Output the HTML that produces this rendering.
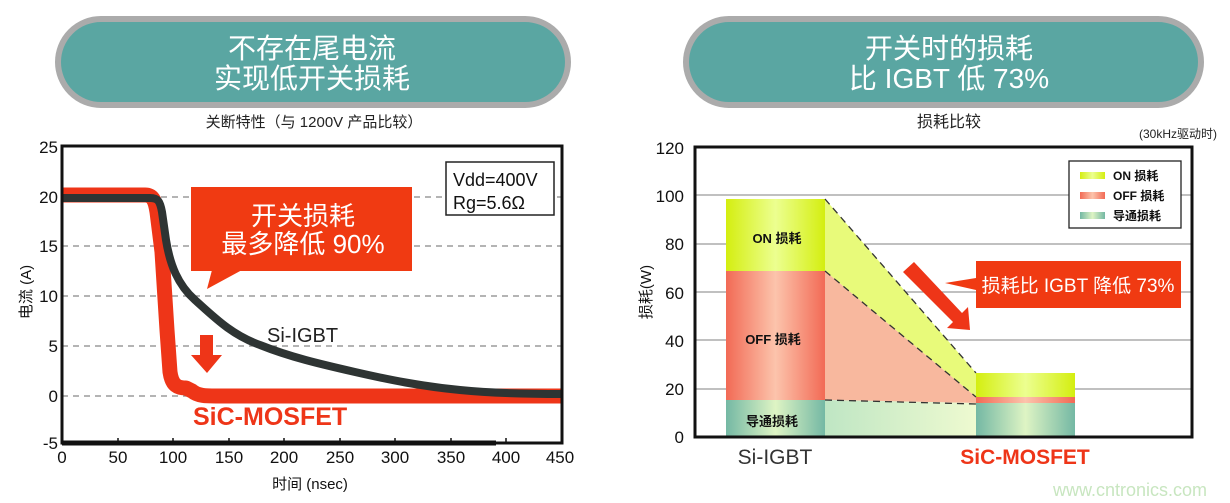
<!DOCTYPE html>
<html><head><meta charset="utf-8"><style>
html,body{margin:0;padding:0;background:#fff;}
svg{display:block;font-family:"Liberation Sans","Noto Sans CJK SC",sans-serif;}
</style></head><body>
<svg width="1230" height="503" viewBox="0 0 1230 503" xmlns="http://www.w3.org/2000/svg">
<defs>
<linearGradient id="gOn" x1="0" x2="1"><stop offset="0" stop-color="#d4ee10"/><stop offset="0.5" stop-color="#ecff90"/><stop offset="1" stop-color="#d4ee10"/></linearGradient>
<linearGradient id="gOff" x1="0" x2="1"><stop offset="0" stop-color="#f26a55"/><stop offset="0.5" stop-color="#fcc4ac"/><stop offset="1" stop-color="#f26a55"/></linearGradient>
<linearGradient id="gCon" x1="0" x2="1"><stop offset="0" stop-color="#74b8a4"/><stop offset="0.5" stop-color="#def4c4"/><stop offset="1" stop-color="#74b8a4"/></linearGradient>
<linearGradient id="gConT" x1="0" x2="1"><stop offset="0" stop-color="#bfe6c4"/><stop offset="1" stop-color="#eefad0"/></linearGradient>
</defs>

<!-- header pills -->
<rect x="58" y="19" width="510" height="86" rx="43" fill="#5aa6a2" stroke="#ababab" stroke-width="6"/>
<text x="312" y="58" font-size="28" fill="#fff" text-anchor="middle">不存在尾电流</text>
<text x="312" y="88" font-size="28" fill="#fff" text-anchor="middle">实现低开关损耗</text>
<rect x="686" y="19" width="515" height="86" rx="43" fill="#5aa6a2" stroke="#ababab" stroke-width="6"/>
<text x="949" y="58" font-size="28" fill="#fff" text-anchor="middle">开关时的损耗</text>
<text x="949" y="88" font-size="28" fill="#fff" text-anchor="middle">比 IGBT 低 73%</text>

<text x="314" y="127" font-size="15" fill="#222" text-anchor="middle">关断特性（与 1200V 产品比较）</text>
<text x="949" y="127" font-size="16" fill="#222" text-anchor="middle">损耗比较</text>
<text x="1217" y="138" font-size="12" fill="#222" text-anchor="end">(30kHz驱动时)</text>

<!-- LEFT CHART -->
<g stroke="#888" stroke-width="1.2" stroke-dasharray="6,5">
<line x1="62" y1="197" x2="562" y2="197"/><line x1="62" y1="246" x2="562" y2="246"/>
<line x1="62" y1="296" x2="562" y2="296"/><line x1="62" y1="346" x2="562" y2="346"/>
<line x1="62" y1="396" x2="562" y2="396"/>
</g>
<g font-size="17" fill="#111" text-anchor="end">
<text x="58" y="153">25</text><text x="58" y="203">20</text><text x="58" y="252">15</text>
<text x="58" y="302">10</text><text x="58" y="352">5</text><text x="58" y="402">0</text><text x="58" y="449">-5</text>
</g>
<g font-size="17" fill="#111" text-anchor="middle">
<text x="62" y="463">0</text><text x="118" y="463">50</text><text x="173" y="463">100</text>
<text x="229" y="463">150</text><text x="284" y="463">200</text><text x="340" y="463">250</text>
<text x="395" y="463">300</text><text x="451" y="463">350</text><text x="506" y="463">400</text><text x="560" y="463">450</text>
</g>
<g stroke="#111" stroke-width="1.5">
<line x1="118" y1="443" x2="118" y2="438"/><line x1="173" y1="443" x2="173" y2="438"/><line x1="229" y1="443" x2="229" y2="438"/>
<line x1="284" y1="443" x2="284" y2="438"/><line x1="340" y1="443" x2="340" y2="438"/><line x1="395" y1="443" x2="395" y2="438"/>
<line x1="451" y1="443" x2="451" y2="438"/><line x1="506" y1="443" x2="506" y2="438"/>
</g>
<text x="310" y="489" font-size="15" fill="#111" text-anchor="middle">时间 (nsec)</text>
<text transform="translate(31,292) rotate(-90)" font-size="15" fill="#111" text-anchor="middle">电流 (A)</text>

<path d="M62,195 L145,195 C152,195 155,199 157,212 L162,252 L167,330 L170,372 C172,386 178,388 186,388 L192,391 C198,396 206,396 216,396 L562,396" fill="none" stroke="#ee3518" stroke-width="15" stroke-linejoin="round"/>
<path d="M62,198 L150,198 C158,198 160,201 162,212 L166,240 C170,265 178,285 195,300 C215,318 232,335 260,345 C290,357 320,364 355,372 C390,380 420,386 460,390 C490,393 520,394 562,394" fill="none" stroke="#2e3433" stroke-width="8" stroke-linejoin="round"/>

<rect x="62" y="146" width="500" height="297" fill="none" stroke="#111" stroke-width="3"/>
<line x1="62" y1="443" x2="496" y2="443" stroke="#111" stroke-width="5"/>

<rect x="446" y="162" width="108" height="53" fill="#fff" stroke="#222" stroke-width="1.5"/>
<text x="453" y="186" font-size="18" fill="#111">Vdd=400V</text>
<text x="453" y="209" font-size="18" fill="#111">Rg=5.6Ω</text>

<rect x="191" y="187" width="221" height="84" fill="#f03a12"/>
<polygon points="212,270 242,270 207,289" fill="#f03a12"/>
<text x="303" y="225" font-size="26" fill="#fff" text-anchor="middle">开关损耗</text>
<text x="303" y="253" font-size="26" fill="#fff" text-anchor="middle">最多降低 90%</text>

<text x="267" y="342" font-size="20" fill="#222">Si-IGBT</text>
<text x="193" y="425" font-size="25" font-weight="bold" fill="#ee3518">SiC-MOSFET</text>
<polygon points="200,335 213,335 213,355 222,355 207,373 191,355 200,355" fill="#ee3518"/>

<!-- RIGHT CHART -->
<g stroke="#9a9a9a" stroke-width="1.3">
<line x1="695" y1="195" x2="1192" y2="195"/><line x1="695" y1="244" x2="1192" y2="244"/>
<line x1="695" y1="292" x2="1192" y2="292"/><line x1="695" y1="340" x2="1192" y2="340"/>
<line x1="695" y1="389" x2="1192" y2="389"/>
</g>
<!-- transition polygons -->
<polygon points="825,199 976,373 976,397 825,271" fill="#e8fa7a"/>
<polygon points="825,271 976,397 976,403 825,400" fill="#f8b89e"/>
<polygon points="825,400 976,403 976,437 825,437" fill="url(#gConT)"/>
<!-- bars -->
<rect x="726" y="199" width="99" height="72" fill="url(#gOn)"/>
<rect x="726" y="271" width="99" height="129" fill="url(#gOff)"/>
<rect x="726" y="400" width="99" height="37" fill="url(#gCon)"/>
<rect x="976" y="373" width="99" height="24" fill="url(#gOn)"/>
<rect x="976" y="397" width="99" height="6" fill="url(#gOff)"/>
<rect x="976" y="403" width="99" height="34" fill="url(#gCon)"/>
<g stroke="#333" stroke-width="1.3" stroke-dasharray="7,5" fill="none">
<line x1="825" y1="199" x2="976" y2="373"/><line x1="825" y1="271" x2="976" y2="397"/><line x1="825" y1="400" x2="976" y2="404"/>
</g>
<g font-size="13" font-weight="bold" fill="#111" text-anchor="middle">
<text x="777" y="243">ON 损耗</text><text x="773" y="344">OFF 损耗</text><text x="772" y="426">导通损耗</text>
</g>
<rect x="695" y="147" width="497" height="290" fill="none" stroke="#111" stroke-width="3"/>
<g font-size="17" fill="#111" text-anchor="end">
<text x="684" y="154">120</text><text x="684" y="202">100</text><text x="684" y="250">80</text>
<text x="684" y="299">60</text><text x="684" y="347">40</text><text x="684" y="395">20</text><text x="684" y="443">0</text>
</g>
<text transform="translate(651,292) rotate(-90)" font-size="15" fill="#111" text-anchor="middle">损耗(W)</text>
<text x="775" y="464" font-size="21" fill="#333" text-anchor="middle">Si-IGBT</text>
<text x="1025" y="464" font-size="21" font-weight="bold" fill="#ee3518" text-anchor="middle">SiC-MOSFET</text>

<rect x="1069" y="161" width="112" height="67" fill="#fff" stroke="#222" stroke-width="1.3"/>
<rect x="1080" y="172" width="25" height="7" fill="url(#gOn)"/>
<rect x="1080" y="192" width="25" height="7" fill="url(#gOff)"/>
<rect x="1080" y="212" width="25" height="7" fill="url(#gCon)"/>
<g font-size="12" font-weight="bold" fill="#111">
<text x="1113" y="180">ON 损耗</text><text x="1113" y="200">OFF 损耗</text><text x="1113" y="220">导通损耗</text>
</g>

<rect x="976" y="261" width="205" height="47" fill="#f03a12"/>
<polygon points="976,278 976,290 945,283" fill="#f03a12"/>
<text x="1078" y="292" font-size="19" fill="#fff" text-anchor="middle">损耗比 IGBT 降低 73%</text>
<polygon points="903,272 914,262 962,313 968,307 970,330 947,328 953,322" fill="#ee3518"/>

<text x="1130" y="496" font-size="18" fill="#c8e6c0" text-anchor="middle">www.cntronics.com</text>
</svg>
</body></html>
